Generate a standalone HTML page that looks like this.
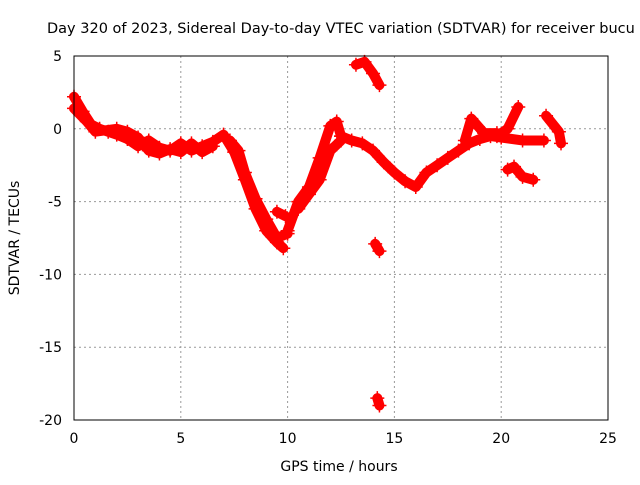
<!DOCTYPE html>
<html><head><meta charset="utf-8"><style>
body{margin:0;background:#fff;width:640px;height:480px;overflow:hidden}
svg{font-family:"DejaVu Sans","Liberation Sans",sans-serif;font-size:14px}
</style></head><body>
<svg id="c" width="640" height="480">
<text x="47" y="33" style="font-size:14.5px">Day 320 of 2023, Sidereal Day-to-day VTEC variation (SDTVAR) for receiver bucu</text>
<text x="339" y="471" text-anchor="middle">GPS time / hours</text>
<text transform="translate(19,238) rotate(-90)" text-anchor="middle">SDTVAR / TECUs</text>
<g id="grid"></g><g id="data"></g>
<rect x="74" y="56" width="534" height="364" fill="none" stroke="#000" stroke-width="1"/>
</svg>
<script>
const xTicks=[0,5,10,15,20,25];
const yTicks=[5,0,-5,-10,-15,-20];
const trackA=[[0,2.2],[0.4,1.2],[0.8,0.3],[1.2,0],[1.6,-0.2],[2,-0.4],[2.5,-0.7],[3,-1.2],[3.5,-0.8],[4,-1.3],[4.5,-1.5],[5,-1],[5.5,-1.5],[6,-1.2],[6.5,-0.9],[7,-0.4],[7.5,-1.6],[8,-3.5],[8.5,-5.5],[9,-7],[9.5,-7.8],[9.8,-8.2]];
const trackA2=[[0,1.4],[0.6,0.5],[1,-0.2],[2,0],[2.5,-0.2],[3,-0.6],[3.5,-1.5],[4,-1.7],[4.5,-1.4],[5,-1.6],[5.5,-1.0],[6,-1.6],[6.5,-1.2]];
const trackB=[[7.3,-0.8],[7.7,-1.5],[8,-3],[8.5,-4.8],[9,-6.2],[9.5,-7.5],[10,-7.2]];
const trackC=[[9.5,-5.7],[9.9,-6.0]];
const trackD=[[10,-7],[10.5,-5],[11,-4],[11.5,-2],[12,0.2],[12.3,0.5],[12.5,-0.5]];
const trackE=[[10.5,-5.5],[11,-4.5],[11.5,-3.5],[12,-1.5],[12.5,-0.8]];
const trackF=[[12.5,-0.5],[13,-0.8],[13.5,-1],[14,-1.5],[14.5,-2.3],[15,-3],[15.5,-3.6],[16,-4],[16.5,-3],[17,-2.5],[17.5,-2],[18,-1.5],[18.5,-1],[19,-0.7],[19.5,-0.5],[20,-0.6],[21,-0.8],[22,-0.8]];
const trackG=[[18.3,-0.8],[18.6,0.7],[19.2,-0.3],[19.8,-0.3]];
const trackH=[[19.8,-0.5],[20.3,0],[20.8,1.5]];
const trackI=[[22.1,0.9],[22.7,-0.2],[22.8,-1]];
const trackJ=[[20.3,-2.8],[20.6,-2.6],[21,-3.3],[21.5,-3.5]];
const trackK=[[13.2,4.4],[13.6,4.6],[14,3.8],[14.3,3]];
const trackL=[[14.1,-7.9],[14.3,-8.4]];
const trackM=[[14.2,-18.5],[14.3,-19]];
const tracks=[trackA,trackA2,trackB,trackC,trackD,trackE,trackF,trackG,trackH,trackI,trackJ,trackK,trackL,trackM];
const X=h=>74+h*534/25, Y=v=>56+(5-v)*364/25;
const NS="http://www.w3.org/2000/svg";
const g=document.getElementById('grid'), d=document.getElementById('data');
xTicks.forEach(t=>{
 if(t>0&&t<25){const l=document.createElementNS(NS,'line');
 
 
 l.setAttribute('x1',X(t));l.setAttribute('x2',X(t));l.setAttribute('y1',56);l.setAttribute('y2',420);
 l.setAttribute('stroke','#999');l.setAttribute('stroke-dasharray','2,3');g.appendChild(l);}
 const tx=document.createElementNS(NS,'text');
 
 
 tx.setAttribute('x',X(t));tx.setAttribute('y',443);tx.setAttribute('text-anchor','middle');tx.textContent=t;g.appendChild(tx);
});
yTicks.forEach(t=>{
 if(t<5&&t>-20){const l=document.createElementNS(NS,'line');
 
 
 l.setAttribute('x1',74);l.setAttribute('x2',608);l.setAttribute('y1',Y(t));l.setAttribute('y2',Y(t));
 l.setAttribute('stroke','#999');l.setAttribute('stroke-dasharray','2,3');g.appendChild(l);}
 const tx=document.createElementNS(NS,'text');
 
 
 tx.setAttribute('x',62);tx.setAttribute('y',Y(t)+5);tx.setAttribute('text-anchor','end');tx.textContent=t;g.appendChild(tx);
});
tracks.forEach(tr=>{
 const p=document.createElementNS(NS,'polyline');
 
 
 p.setAttribute('points',tr.map(q=>X(q[0])+','+Y(q[1])).join(' '));
 p.setAttribute('fill','none');p.setAttribute('stroke','#f00');p.setAttribute('stroke-width','10');
 p.setAttribute('stroke-linejoin','round');p.setAttribute('stroke-linecap','round');d.appendChild(p);
 tr.forEach(q=>{
  const m=document.createElementNS(NS,'path');
  
  
  const x=X(q[0]),y=Y(q[1]);
  m.setAttribute('d',`M${x-7},${y}H${x+7}M${x},${y-7}V${y+7}`);
  m.setAttribute('stroke','#f00');m.setAttribute('stroke-width','1.5');d.appendChild(m);
 });
});
</script>
</body></html>
